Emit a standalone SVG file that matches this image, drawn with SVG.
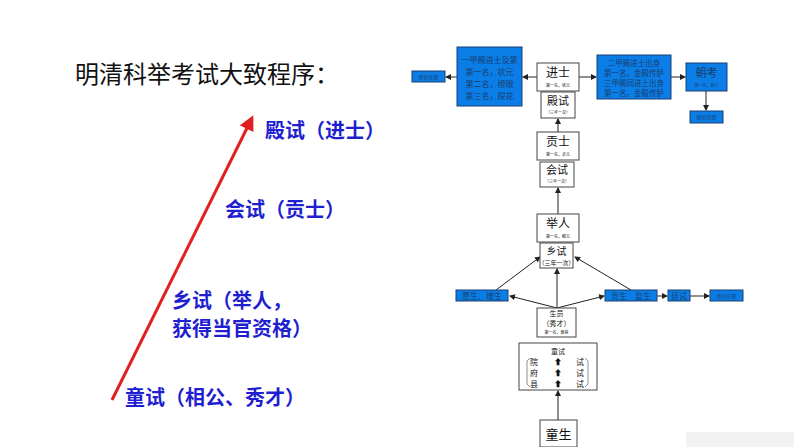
<svg xmlns="http://www.w3.org/2000/svg" width="794" height="447" viewBox="0 0 794 447">
<style>
.w{fill:#fff;stroke:#444;stroke-width:1}
.b{fill:#0a7de6;stroke:#1b3f73;stroke-width:1}
.t{font-family:"Noto Sans CJK SC",sans-serif;text-anchor:middle;fill:#111}
.bt{font-family:"Noto Sans CJK SC",sans-serif;text-anchor:middle;fill:#1a3d6e}
.big{font-family:"Noto Sans CJK SC",sans-serif;font-weight:bold;fill:#1f1fd0;font-size:20px}
.c{stroke:#222;stroke-width:1;fill:none;marker-end:url(#a)}
</style>
<defs><marker id="a" markerWidth="6" markerHeight="6" refX="5" refY="3" orient="auto"><path d="M0,0L6,3L0,6z" fill="#222"/></marker>
<marker id="r" markerWidth="5" markerHeight="5" refX="4" refY="2.5" orient="auto"><path d="M0,0L5,2.5L0,5z" fill="#e02020"/></marker></defs>
<rect width="794" height="447" fill="#fff"/>
<text x="75" y="83" font-family="Noto Sans CJK SC,serif" font-size="24" fill="#111">明清科举考试大致程序：</text>
<line x1="112" y1="400" x2="252" y2="118" stroke="#e02020" stroke-width="3" marker-end="url(#r)"/>
<text class="big" x="265" y="138">殿试（进士）</text>
<text class="big" x="225" y="217">会试（贡士）</text>
<text class="big" x="172" y="308">乡试（举人，</text>
<text class="big" x="172" y="336">获得当官资格）</text>
<text class="big" x="125" y="405">童试（相公、秀才）</text>
<rect x="686" y="432" width="108" height="15" fill="#f2f2f2"/>
<g id="connectors">
<path class="c" d="M537,77H523"/><path class="c" d="M457,77H446"/>
<path class="c" d="M579,77H596"/><path class="c" d="M671,77H685"/>
<path class="c" d="M706,91V110"/>
<path class="c" d="M558,132V119"/><path class="c" d="M558,214V188"/>
<path class="c" d="M557,308V269"/>
<path class="c" d="M496,290L540,257"/><path class="c" d="M631,290L575,257"/>
<path class="c" d="M557,308L510,296"/><path class="c" d="M557,308L604,296"/>
<path class="c" d="M657,296H667"/><path class="c" d="M690,296H709"/>
<path class="c" d="M558,420V391"/>
</g>
<g id="n1"><rect class="b" x="412" y="71" width="33" height="11"/><text class="bt" x="428.5" y="79" font-size="5">授官任职</text></g>
<g id="n2"><rect class="b" x="457" y="47" width="65" height="59"/><text class="bt" x="489.5" y="63" font-size="8">一甲赐进士及第</text><text class="bt" x="489.5" y="75" font-size="8">第一名，状元</text><text class="bt" x="489.5" y="87" font-size="8">第二名，榜眼</text><text class="bt" x="489.5" y="99" font-size="8">第三名，探花</text></g>
<g id="n3"><rect class="w" x="537" y="63" width="42" height="28"/><text class="t" x="558" y="77" font-size="12">进士</text><text class="t" x="558" y="87" font-size="4">第一名，状元</text></g>
<g id="n4"><rect class="w" x="541" y="92" width="34" height="26"/><text class="t" x="558" y="105" font-size="11">殿试</text><text class="t" x="558" y="114" font-size="4">（三年一次）</text></g>
<g id="n5"><rect class="b" x="597" y="55" width="74" height="44"/><text class="bt" x="634" y="66" font-size="7.5">二甲赐进士出身</text><text class="bt" x="634" y="76" font-size="7.5">第一名，金殿传胪</text><text class="bt" x="634" y="86" font-size="7.5">三甲赐同进士出身</text><text class="bt" x="634" y="96" font-size="7.5">第一名，金殿传胪</text></g>
<g id="n6"><rect class="b" x="686" y="63" width="41" height="28"/><text class="bt" x="706.5" y="77" font-size="11">朝考</text><text class="bt" x="706.5" y="87" font-size="4">第一名，朝元</text></g>
<g id="n7"><rect class="b" x="690" y="111" width="33" height="12"/><text class="bt" x="706.5" y="119" font-size="5">授官任职</text></g>
<g id="n8"><rect class="w" x="537" y="132" width="42" height="28"/><text class="t" x="558" y="146" font-size="12">贡士</text><text class="t" x="558" y="156" font-size="4">第一名，会元</text></g>
<g id="n9"><rect class="w" x="540" y="162" width="34" height="25"/><text class="t" x="557" y="174" font-size="11">会试</text><text class="t" x="557" y="183" font-size="4">（三年一次）</text></g>
<g id="n10"><rect class="w" x="537" y="214" width="42" height="28"/><text class="t" x="558" y="228" font-size="12">举人</text><text class="t" x="558" y="238" font-size="4">第一名，解元</text></g>
<g id="n11"><rect class="w" x="540" y="243" width="33" height="25"/><text class="t" x="556.5" y="255" font-size="10">乡试</text><text class="t" x="556.5" y="265" font-size="6">（三年一次）</text></g>
<g id="n12"><rect class="b" x="456" y="290" width="52" height="11"/><text class="bt" x="482" y="299" font-size="8">廪生、增生</text></g>
<g id="n13"><rect class="b" x="605" y="290" width="52" height="11"/><text class="bt" x="631" y="299" font-size="8">贡生　监生</text></g>
<g id="n14"><rect class="b" x="668" y="290" width="22" height="11"/><text class="bt" x="679" y="299" font-size="8">廷试</text></g>
<g id="n15"><rect class="b" x="710" y="290" width="33" height="11"/><text class="bt" x="726.5" y="298" font-size="5">授官任职</text></g>
<g id="n16"><rect class="w" x="537" y="308" width="39" height="29"/><text class="t" x="556.5" y="316" font-size="7">生员</text><text class="t" x="556.5" y="326" font-size="7">（秀才）</text><text class="t" x="556.5" y="334" font-size="4">第一名，案首</text></g>
<g id="n17"><rect class="w" x="519" y="343" width="78" height="47"/><text class="t" x="558" y="354" font-size="7">童试</text>
<text class="t" x="534" y="365" font-size="8">院</text><text class="t" x="534" y="376" font-size="8">府</text><text class="t" x="534" y="387" font-size="8">县</text>
<text class="t" x="580" y="365" font-size="8">试</text><text class="t" x="580" y="376" font-size="8">试</text><text class="t" x="580" y="387" font-size="8">试</text>
<text class="t" x="558" y="365" font-size="8">⬆</text><text class="t" x="558" y="376" font-size="8">⬆</text><text class="t" x="558" y="387" font-size="8">⬆</text>
<path d="M530,358l-3,3v23l3,3M585,358l3,3v23l-3,3" stroke="#444" fill="none" stroke-width="0.6"/></g>
<g id="n18"><rect class="w" x="540" y="420" width="37" height="27"/><text class="t" x="558.5" y="439" font-size="13">童生</text></g>
</svg>
